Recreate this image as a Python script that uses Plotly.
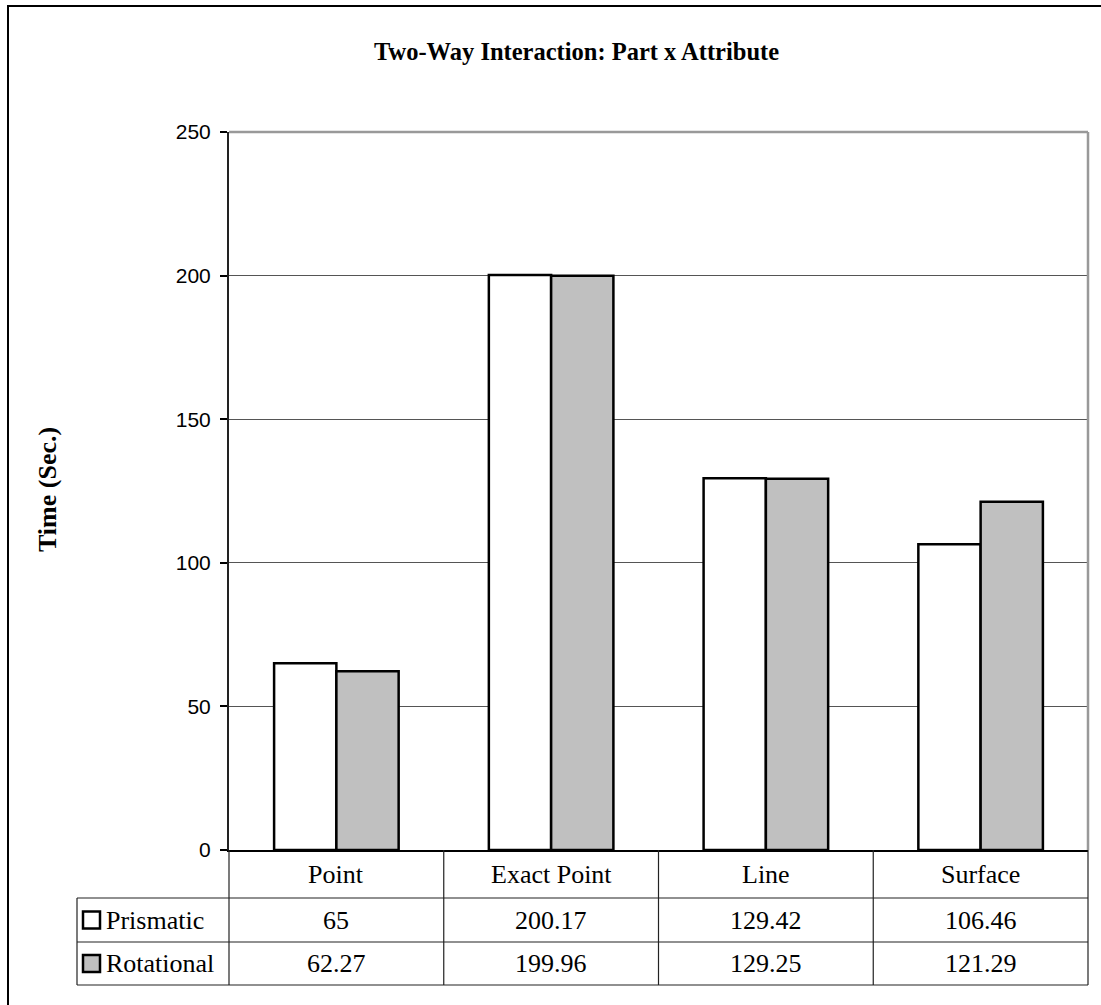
import plotly.graph_objects as go

# Data
categories = ["Point", "Exact Point", "Line", "Surface"]
series_names = ["Prismatic", "Rotational"]
prismatic = [65, 200.17, 129.42, 106.46]
rotational = [62.27, 199.96, 129.25, 121.29]
y_ticks = [0, 50, 100, 150, 200, 250]

W, H = 1101, 1005
L, R, T, B = 229, 13, 132, 155
PW, PH = W - L - R, H - T - B

SERIF = "Times New Roman, Liberation Serif, serif"
SANS = "Arial, Liberation Sans, sans-serif"
fills = ["#FFFFFF", "#C0C0C0"]


def px(x):
    return (x - L) / PW


def py(y):
    return (H - B - y) / PH


fig = go.Figure()
for name, vals, col in zip(series_names, [prismatic, rotational], fills):
    fig.add_trace(go.Bar(
        x=categories, y=vals, name=name,
        marker=dict(color=col, line=dict(color="#000000", width=2.5)),
        hoverinfo="x+y+name",
    ))

shapes = []
annotations = []

# outer chart frame (top and left visible)
shapes.append(dict(type="rect", xref="paper", yref="paper",
                   x0=px(8), x1=px(1120), y0=py(1030), y1=py(6),
                   line=dict(color="#000000", width=2), layer="below"))
# plot area top and right edges
shapes.append(dict(type="line", xref="paper", yref="paper", x0=0, x1=1, y0=1, y1=1,
                   line=dict(color="#999999", width=2.5)))
shapes.append(dict(type="line", xref="paper", yref="paper", x0=1, x1=1, y0=0, y1=1,
                   line=dict(color="#999999", width=2.5)))

# data table below the plot
n = len(categories)
row_hdr = (850, 898)
row_a = (898, 942)
row_b = (942, 985)
tbl_color = "#222222"
for k in range(n + 1):
    xk = k / n
    shapes.append(dict(type="line", xref="paper", yref="paper", x0=xk, x1=xk,
                       y0=py(row_b[1]), y1=0, line=dict(color=tbl_color, width=1.2)))
for yy in (row_a[0], row_b[0], row_b[1]):
    shapes.append(dict(type="line", xref="paper", yref="paper", x0=px(77), x1=1,
                       y0=py(yy), y1=py(yy), line=dict(color=tbl_color, width=1.2)))
shapes.append(dict(type="line", xref="paper", yref="paper", x0=px(77), x1=px(77),
                   y0=py(row_b[1]), y1=py(row_a[0]), line=dict(color=tbl_color, width=1.2)))

font_tbl = dict(family=SERIF, size=26, color="#000000")
for i, c in enumerate(categories):
    annotations.append(dict(x=c, y=py(sum(row_hdr) / 2), xref="x", yref="paper",
                            text=c, showarrow=False, font=font_tbl,
                            xanchor="center", yanchor="middle"))
for row, vals in zip((row_a, row_b), (prismatic, rotational)):
    for c, v in zip(categories, vals):
        annotations.append(dict(x=c, y=py(sum(row) / 2), xref="x", yref="paper",
                                text=f"{v:g}", showarrow=False, font=font_tbl,
                                xanchor="center", yanchor="middle"))

# legend keys inside the table rows
for row, name, col in zip((row_a, row_b), series_names, fills):
    yc = sum(row) / 2
    shapes.append(dict(type="rect", xref="paper", yref="paper",
                       x0=px(83), x1=px(100), y0=py(yc + 8.5), y1=py(yc - 8.5),
                       fillcolor=col, line=dict(color="#000000", width=2.5)))
    annotations.append(dict(x=px(104), y=py(yc), xref="paper", yref="paper",
                            text=name, showarrow=False, font=font_tbl,
                            xanchor="left", yanchor="middle"))

# titles
annotations.append(dict(x=px(576), y=py(52), xref="paper", yref="paper",
                        text="<b>Two-Way Interaction: Part x Attribute</b>",
                        showarrow=False, xanchor="center", yanchor="middle",
                        font=dict(family=SERIF, size=24.5, color="#000000")))
annotations.append(dict(x=px(47), y=py(490), xref="paper", yref="paper",
                        text="<b>Time (Sec.)</b>", textangle=-90,
                        showarrow=False, xanchor="center", yanchor="middle",
                        font=dict(family=SERIF, size=26, color="#000000")))

fig.update_layout(
    width=W, height=H,
    margin=dict(l=L, r=R, t=T, b=B, pad=0),
    paper_bgcolor="#FFFFFF", plot_bgcolor="#FFFFFF",
    barmode="group", bargap=0.42, bargroupgap=0,
    showlegend=False,
    shapes=shapes, annotations=annotations,
    xaxis=dict(type="category", showticklabels=False, ticks="",
               showgrid=False, showline=True, linecolor="#000000", linewidth=2,
               zeroline=False, fixedrange=True),
    yaxis=dict(range=[0, 250], tickvals=y_ticks, ticks="outside", ticklen=7,
               tickcolor="#000000", tickwidth=1.5,
               tickfont=dict(family=SANS, size=21, color="#000000"),
               ticklabelstandoff=5,
               showgrid=True, gridcolor="#555555", gridwidth=1,
               showline=True, linecolor="#222222", linewidth=2,
               zeroline=False, fixedrange=True),
)

fig.write_html("out.html")
